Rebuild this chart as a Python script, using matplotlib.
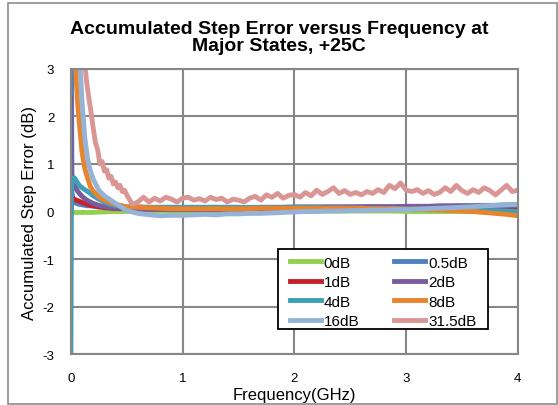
import matplotlib.pyplot as plt
from matplotlib.patches import Rectangle

plt.rcParams['font.family'] = ['Liberation Sans', 'DejaVu Sans']
plt.rcParams['axes.unicode_minus'] = False

# frequency grid (GHz) shared by the smoother traces
freq = [0.0, 0.005, 0.01, 0.02, 0.03, 0.04, 0.05, 0.06, 0.08, 0.1,
        0.125, 0.15, 0.175, 0.2, 0.25, 0.3, 0.35, 0.4,
        0.5, 0.6, 0.7, 0.8, 0.9, 1.0,
        1.1, 1.2, 1.3, 1.4, 1.5, 1.6, 1.7, 1.8, 1.9, 2.0,
        2.1, 2.2, 2.3, 2.4, 2.5, 2.6, 2.7, 2.8, 2.9, 3.0,
        3.1, 3.2, 3.3, 3.4, 3.5, 3.6, 3.7, 3.8, 3.9, 4.0]

err_0db = [0.00, 0.00, -0.01, -0.02, -0.02, -0.02, -0.02, -0.02, -0.02, -0.02,
           -0.02, -0.02, -0.02, -0.02, -0.01, -0.01, 0.00, 0.00,
           0.00, 0.00, 0.01, 0.01, 0.01, 0.01,
           0.01, 0.01, 0.01, 0.01, 0.01, 0.01, 0.01, 0.01, 0.01, 0.01,
           0.01, 0.01, 0.01, 0.01, 0.01, 0.01, 0.01, 0.01, 0.01, 0.00,
           0.00, 0.00, 0.00, 0.00, 0.00, 0.00, -0.01, -0.01, -0.01, -0.02]

err_05db = [6.0, 3.5, 0.40, 0.25, 0.20, 0.18, 0.17, 0.16, 0.15, 0.14,
            0.13, 0.12, 0.12, 0.11, 0.10, 0.10, 0.09, 0.09,
            0.08, 0.08, 0.07, 0.07, 0.07, 0.07,
            0.07, 0.07, 0.08, 0.08, 0.08, 0.08, 0.09, 0.09, 0.09, 0.10,
            0.10, 0.10, 0.10, 0.10, 0.10, 0.10, 0.10, 0.10, 0.10, 0.10,
            0.10, 0.10, 0.11, 0.11, 0.12, 0.12, 0.13, 0.13, 0.14, 0.15]

err_1db = [0.00, 0.10, 0.25, 0.28, 0.26, 0.25, 0.24, 0.23, 0.21, 0.19,
           0.17, 0.15, 0.13, 0.12, 0.10, 0.08, 0.07, 0.06,
           0.06, 0.05, 0.05, 0.05, 0.05, 0.05,
           0.05, 0.05, 0.05, 0.05, 0.05, 0.05, 0.05, 0.05, 0.06, 0.06,
           0.06, 0.06, 0.06, 0.06, 0.06, 0.06, 0.06, 0.06, 0.06, 0.06,
           0.06, 0.06, 0.06, 0.06, 0.06, 0.06, 0.06, 0.05, 0.05, 0.05]

err_2db = [2.40, 0.80, 0.75, 0.65, 0.58, 0.52, 0.47, 0.43, 0.37, 0.32,
           0.27, 0.23, 0.20, 0.17, 0.13, 0.10, 0.08, 0.07,
           0.06, 0.05, 0.05, 0.05, 0.05, 0.05,
           0.05, 0.05, 0.05, 0.06, 0.06, 0.06, 0.07, 0.07, 0.07, 0.08,
           0.08, 0.08, 0.09, 0.09, 0.09, 0.10, 0.10, 0.10, 0.10, 0.11,
           0.11, 0.11, 0.12, 0.12, 0.12, 0.12, 0.12, 0.12, 0.12, 0.12]

err_4db = [-3.5, 0.30, 0.60, 0.70, 0.71, 0.68, 0.64, 0.60, 0.54, 0.50,
           0.46, 0.42, 0.38, 0.33, 0.26, 0.20, 0.15, 0.12,
           0.10, 0.10, 0.09, 0.09, 0.09, 0.09,
           0.09, 0.09, 0.09, 0.09, 0.09, 0.08, 0.08, 0.08, 0.08, 0.08,
           0.08, 0.08, 0.07, 0.07, 0.07, 0.07, 0.06, 0.06, 0.06, 0.05,
           0.05, 0.05, 0.04, 0.04, 0.03, 0.03, 0.02, 0.02, 0.01, 0.00]

err_8db = [8.0, 7.0, 6.0, 5.0, 4.1, 3.3, 2.7, 2.3, 1.75, 1.25,
           0.90, 0.70, 0.52, 0.43, 0.31, 0.24, 0.19, 0.15,
           0.10, 0.09, 0.08, 0.07, 0.06, 0.06,
           0.06, 0.06, 0.06, 0.06, 0.06, 0.06, 0.07, 0.07, 0.07, 0.07,
           0.07, 0.07, 0.07, 0.07, 0.07, 0.07, 0.06, 0.06, 0.06, 0.05,
           0.05, 0.04, 0.03, 0.02, 0.01, 0.00, -0.02, -0.04, -0.06, -0.09]

err_16db = [10.0, 9.0, 8.5, 7.8, 7.0, 6.2, 5.5, 4.5, 3.2, 2.3,
            1.55, 1.10, 0.85, 0.68, 0.45, 0.33, 0.25, 0.17,
            0.02, -0.04, -0.07, -0.09, -0.08, -0.08,
            -0.07, -0.06, -0.07, -0.05, -0.05, -0.04, -0.04, -0.03, -0.02, -0.01,
            0.00, 0.00, 0.01, 0.01, 0.02, 0.02, 0.03, 0.03, 0.04, 0.04,
            0.05, 0.06, 0.07, 0.08, 0.09, 0.10, 0.12, 0.13, 0.14, 0.15]

# the 31.5dB trace is noisier, so it has its own finer grid
freq_fine = [0.0, 0.02, 0.04, 0.06, 0.08, 0.1, 0.12, 0.14, 0.16, 0.18,
             0.2, 0.22, 0.24, 0.26, 0.28, 0.3, 0.32, 0.34, 0.36, 0.38,
             0.4, 0.42, 0.44, 0.46, 0.48, 0.5,
             0.55, 0.6, 0.65, 0.7, 0.75, 0.8, 0.85, 0.9, 0.95, 1.0,
             1.05, 1.1, 1.15, 1.2, 1.25, 1.3, 1.35, 1.4, 1.45, 1.5,
             1.55, 1.6, 1.65, 1.7, 1.75, 1.8, 1.85, 1.9, 1.95, 2.0,
             2.05, 2.1, 2.15, 2.2, 2.25, 2.3, 2.35, 2.4, 2.45, 2.5,
             2.55, 2.6, 2.65, 2.7, 2.75, 2.8, 2.85, 2.9, 2.95, 3.0,
             3.05, 3.1, 3.15, 3.2, 3.25, 3.3, 3.35, 3.4, 3.45, 3.5,
             3.55, 3.6, 3.65, 3.7, 3.75, 3.8, 3.85, 3.9, 3.95, 4.0]

err_315db = [20.0, 15.0, 11.0, 8.0, 6.0, 4.3, 3.2, 2.75, 2.4, 2.1,
             1.75, 1.45, 1.30, 1.00, 1.05, 0.85, 0.88, 0.70, 0.74, 0.58,
             0.62, 0.50, 0.55, 0.42, 0.45, 0.35,
             0.15, 0.20, 0.30, 0.20, 0.28, 0.22, 0.30, 0.26, 0.20, 0.28,
             0.30, 0.24, 0.27, 0.22, 0.30, 0.25, 0.28, 0.20, 0.26, 0.24,
             0.20, 0.28, 0.32, 0.24, 0.35, 0.30, 0.38, 0.28, 0.34, 0.36,
             0.30, 0.40, 0.33, 0.45, 0.36, 0.42, 0.50, 0.38, 0.44, 0.36,
             0.40, 0.35, 0.42, 0.38, 0.46, 0.40, 0.55, 0.48, 0.60, 0.45,
             0.42, 0.46, 0.38, 0.44, 0.36, 0.40, 0.50, 0.42, 0.55, 0.44,
             0.38, 0.46, 0.40, 0.50, 0.44, 0.35, 0.45, 0.55, 0.42, 0.45]

labels = ['0dB', '0.5dB', '1dB', '2dB', '4dB', '8dB', '16dB', '31.5dB']
colors = ['#92D050', '#4F81BD', '#C8202A', '#7A5C9E',
          '#3CA0B8', '#E8832E', '#95B3D7', '#D99694']

series = [(freq, err_0db), (freq, err_05db), (freq, err_1db), (freq, err_2db),
          (freq, err_4db), (freq, err_8db), (freq, err_16db), (freq_fine, err_315db)]

fig = plt.figure(figsize=(5.58, 4.06), dpi=100)
ax = fig.add_axes([0.127, 0.1256, 0.801, 0.702])

lines = []
for (x, y), lab, c in zip(series, labels, colors):
    ln, = ax.plot(x, y, color=c, lw=3.5, label=lab, solid_joinstyle='round')
    lines.append(ln)

ax.set_xlim(0, 4)
ax.set_ylim(-3, 3)
ax.set_xticks([0, 1, 2, 3, 4])
ax.set_yticks([-3, -2, -1, 0, 1, 2, 3])
ax.grid(True, color='#878787', lw=1.5)
ax.set_axisbelow(True)
for s in ax.spines.values():
    s.set_color('#878787')
    s.set_linewidth(1.5)
ax.tick_params(axis='both', length=0, labelsize=9.5, colors='#000000')
ax.tick_params(axis='y', pad=12)
ax.tick_params(axis='x', pad=13)

ax.set_xlabel('Frequency(GHz)', fontsize=12, labelpad=2)
ax.set_ylabel('Accumulated Step Error (dB)', fontsize=12, labelpad=4)

fig.text(0.5, 0.907, 'Accumulated Step Error versus Frequency at\nMajor States, +25C',
         ha='center', va='center', fontsize=14, fontweight='bold', linespacing=1.0)

# legend reads row by row: 0dB 0.5dB / 1dB 2dB / ...
order = [0, 2, 4, 6, 1, 3, 5, 7]
leg = ax.legend([lines[i] for i in order], [labels[i] for i in order],
                ncol=2, loc='upper left', bbox_to_anchor=(0.482, 0.358),
                fontsize=11, frameon=False, handlelength=2.0, handletextpad=0.2,
                columnspacing=2.3, labelspacing=0.36, borderpad=0.25,
                borderaxespad=0)
for h in leg.get_lines():
    h.set_linewidth(3.5)
ax.add_patch(Rectangle((0.463, 0.086), 0.470, 0.282, transform=ax.transAxes,
                       fill=True, facecolor='white', edgecolor='black',
                       lw=1.3, zorder=4.9))

fig.patches.append(Rectangle((7.5 / 558, 1.0 / 406), 549 / 558, 401.5 / 406,
                             transform=fig.transFigure, fill=False,
                             edgecolor='#8c8c8c', lw=1.2))

fig.savefig('out.png', dpi=100)
